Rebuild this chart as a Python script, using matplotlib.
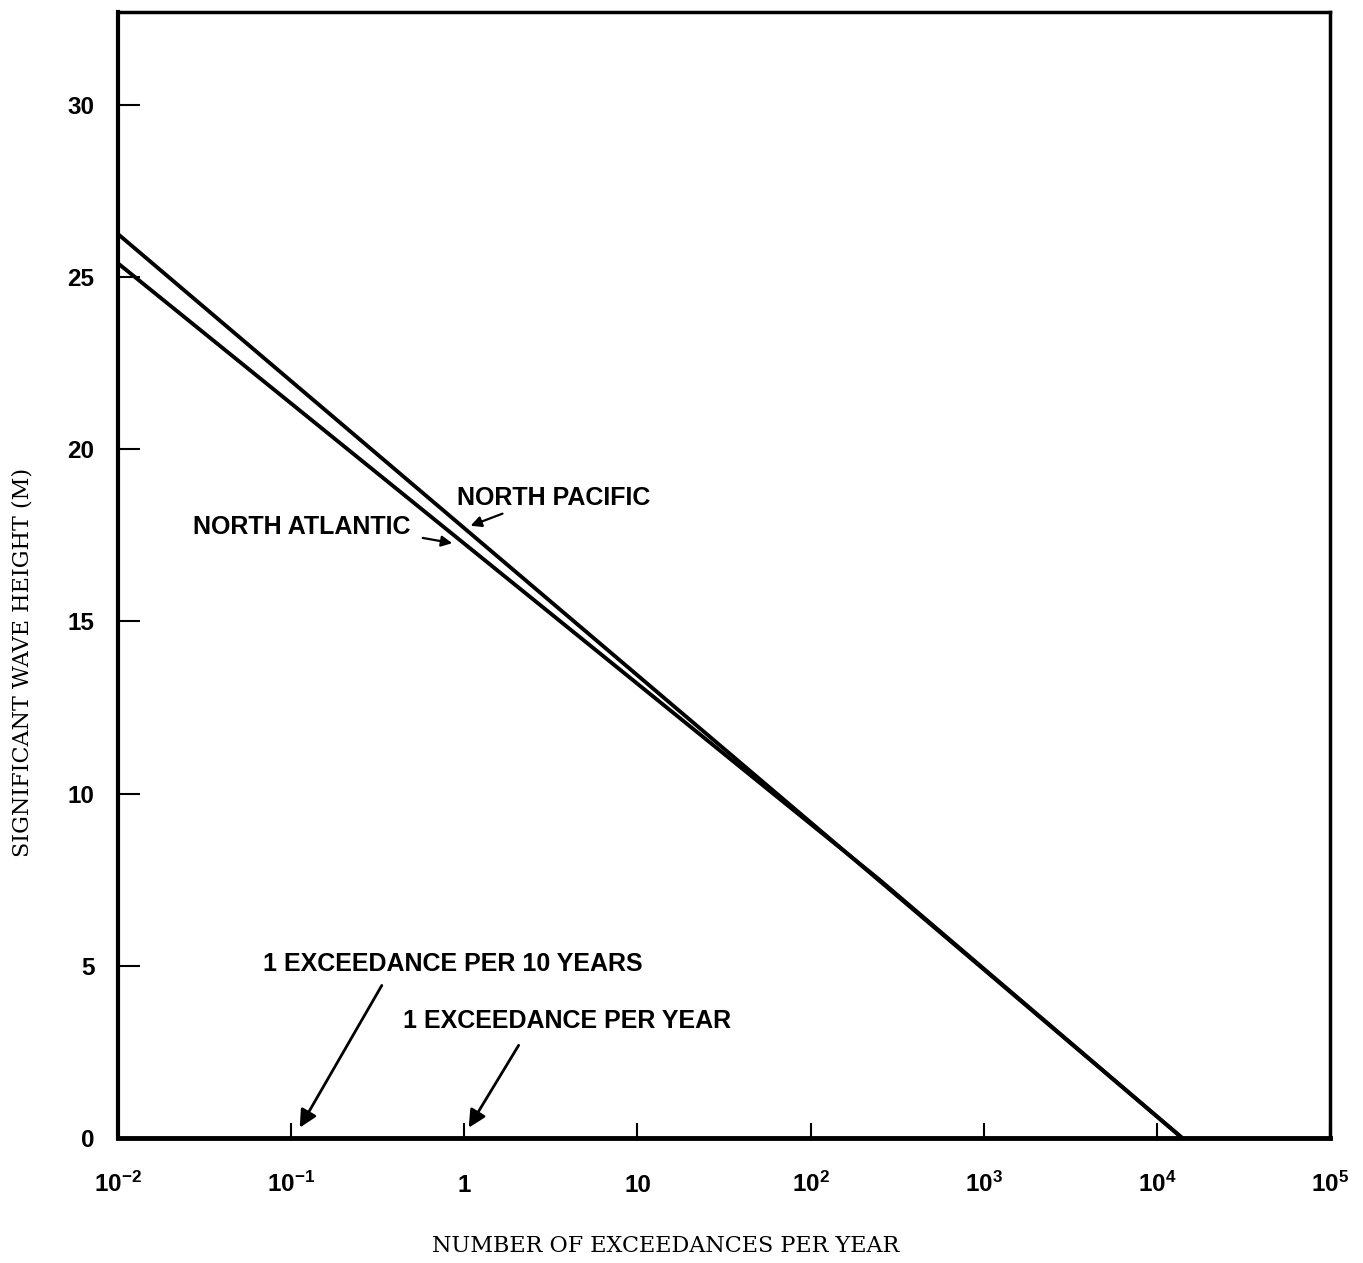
import matplotlib
matplotlib.use("Agg")
import matplotlib.pyplot as plt

# exceedance curves (events per year vs significant wave height, m)
pacific_rate = [1e-2, 1.4e4]
pacific_height = [26.25, 0.0]
atlantic_rate = [1e-2, 250, 1.4e4]
atlantic_height = [25.4, 7.5, 0.0]

x_ticks = [1e-2, 1e-1, 1, 10, 1e2, 1e3, 1e4, 1e5]
x_tick_labels = [r'$\mathbf{10^{-2}}$', r'$\mathbf{10^{-1}}$', '1', '10',
                 r'$\mathbf{10^{2}}$', r'$\mathbf{10^{3}}$',
                 r'$\mathbf{10^{4}}$', r'$\mathbf{10^{5}}$']
y_ticks = [0, 5, 10, 15, 20, 25, 30]

plt.rcParams['mathtext.fontset'] = 'custom'
plt.rcParams['mathtext.bf'] = 'Liberation Sans:bold'
plt.rcParams['mathtext.rm'] = 'Liberation Sans:bold'

sans = dict(family='Liberation Sans', weight='bold', size=18)
ticks = dict(family='Liberation Sans', weight='bold', size=17.5)
serif = dict(family='DejaVu Serif', size=16)

fig = plt.figure(figsize=(13.63, 12.63), dpi=100)
ax = fig.add_axes([0.0866, 0.099, 0.8892, 0.8915])

ax.plot(pacific_rate, pacific_height, color='black', lw=2.8, solid_capstyle='butt')
ax.plot(atlantic_rate, atlantic_height, color='black', lw=2.8, solid_capstyle='butt')

ax.set_xscale('log')
ax.set_xlim(1e-2, 1e5)
ax.set_ylim(0, 32.7)
ax.minorticks_off()

ax.set_xticks(x_ticks)
ax.set_xticklabels(x_tick_labels, fontdict=ticks)
ax.set_yticks(y_ticks)
ax.set_yticklabels([str(v) for v in y_ticks], fontdict=ticks)
ax.tick_params(axis='x', direction='in', length=11, width=1.5, pad=39)
ax.tick_params(axis='y', direction='in', length=16, width=1.5, pad=17)
plt.setp(ax.get_xticklabels(), va='baseline')

for side, lw in [('left', 3), ('right', 2.5), ('top', 2.5), ('bottom', 3.5)]:
    ax.spines[side].set_linewidth(lw)

ax.set_xlabel('NUMBER OF EXCEEDANCES PER YEAR', fontdict=serif)
ax.xaxis.set_label_coords(0.452, -0.096)
ax.xaxis.label.set_va('center')
ax.set_ylabel('SIGNIFICANT WAVE HEIGHT (M)', fontdict=serif)
ax.yaxis.set_label_coords(-0.079, 0.4227)
ax.yaxis.label.set_va('center')

# curve labels
ax.text(0.908, 18.6, 'NORTH PACIFIC', ha='left', va='center', **sans)
ax.annotate('', xy=(1.05, 17.75), xytext=(1.72, 18.16),
            arrowprops=dict(arrowstyle='-|>', color='black', lw=1.6, mutation_scale=16))
ax.text(0.0271, 17.73, 'NORTH ATLANTIC', ha='left', va='center', **sans)
ax.annotate('', xy=(0.883, 17.26), xytext=(0.555, 17.44),
            arrowprops=dict(arrowstyle='-|>', color='black', lw=1.6, mutation_scale=16))

# return period markers
ax.text(0.0687, 5.05, '1 EXCEEDANCE PER 10 YEARS', ha='left', va='center', **sans)
ax.annotate('', xy=(0.11, 0.23), xytext=(0.34, 4.5),
            arrowprops=dict(arrowstyle='-|>', color='black', lw=2, mutation_scale=26))
ax.text(0.443, 3.39, '1 EXCEEDANCE PER YEAR', ha='left', va='center', **sans)
ax.annotate('', xy=(1.04, 0.23), xytext=(2.10, 2.76),
            arrowprops=dict(arrowstyle='-|>', color='black', lw=2, mutation_scale=26))

fig.savefig('out.png', dpi=100)
